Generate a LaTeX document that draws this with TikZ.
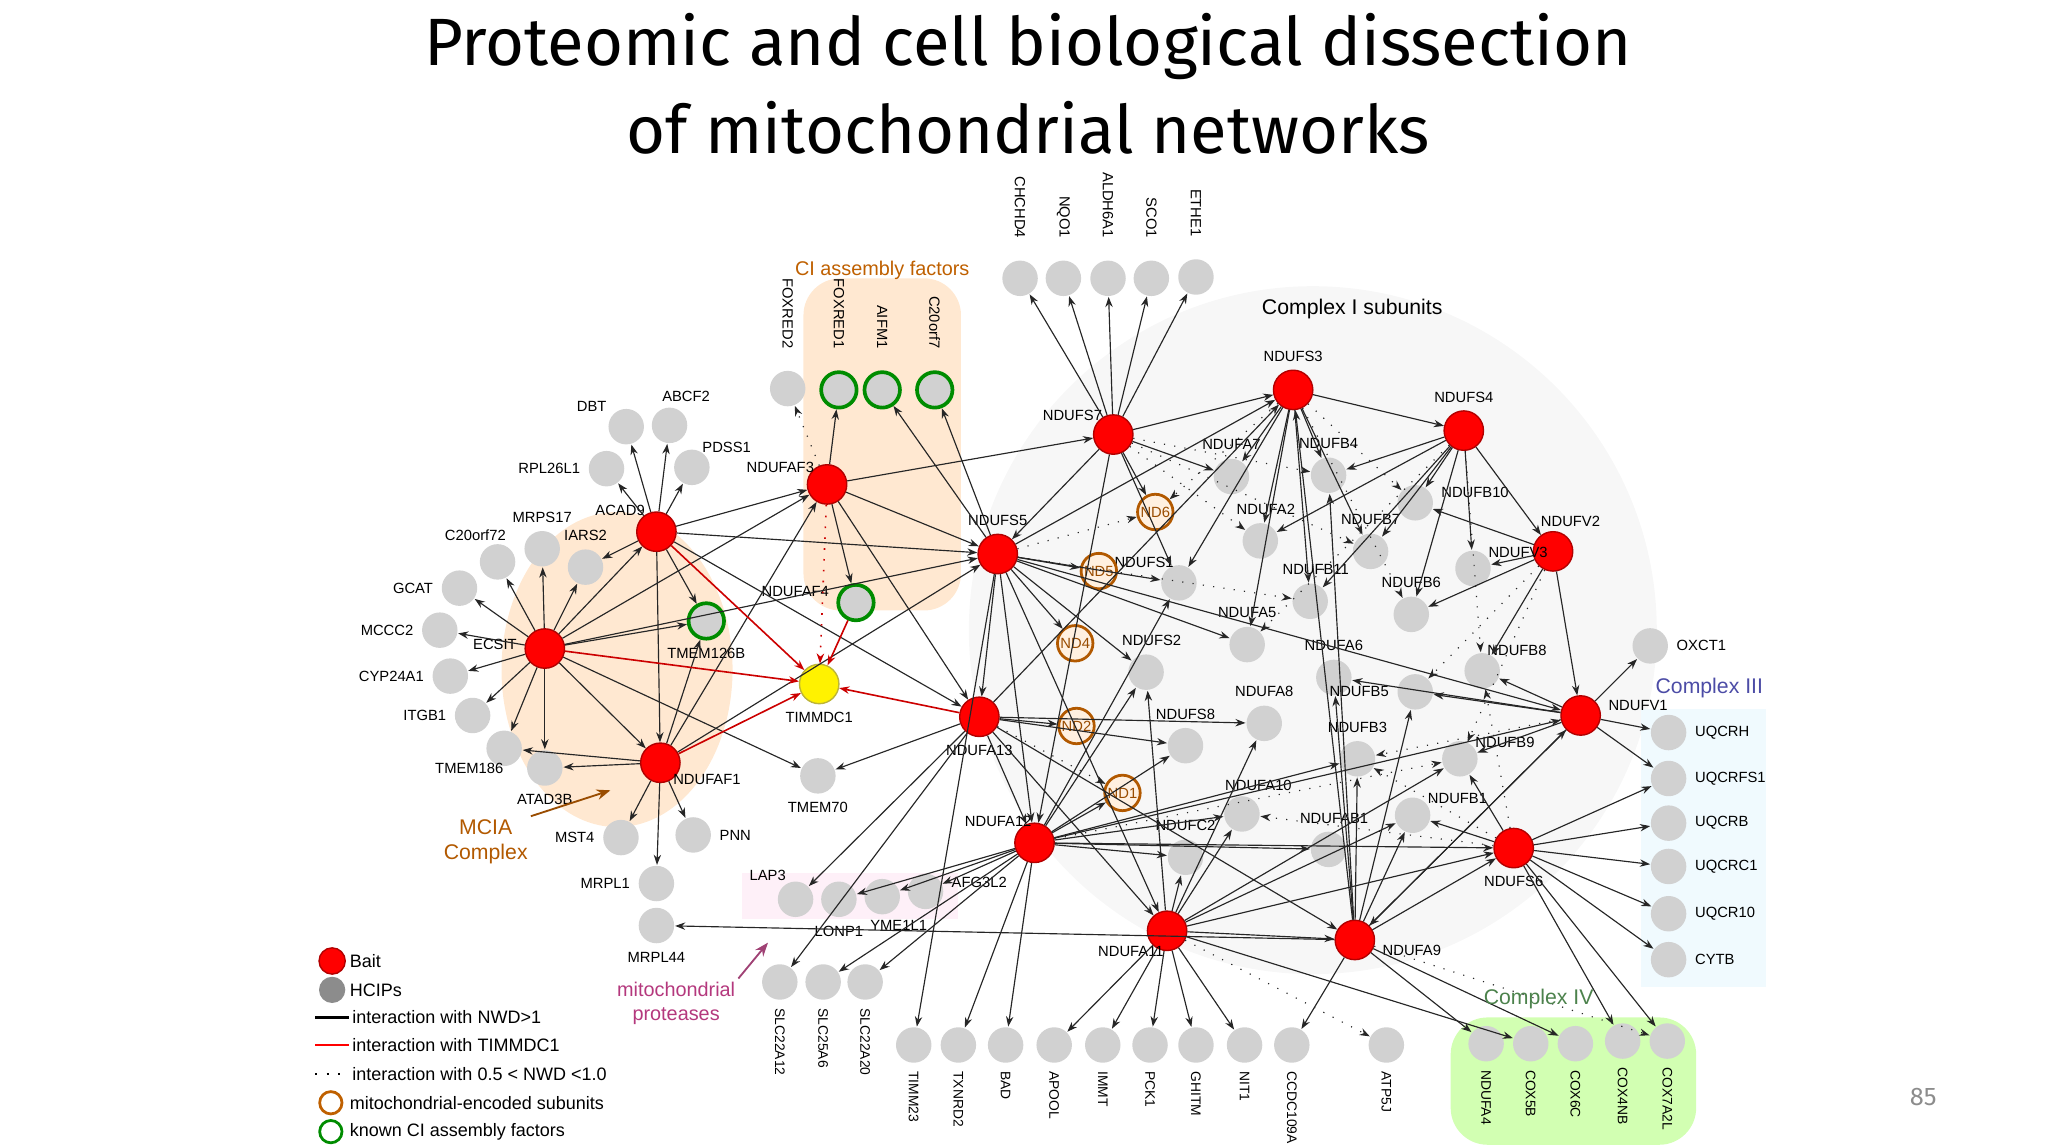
\documentclass[tikz,border=0pt]{standalone}
\usepackage{fontspec}
\setmainfont{Liberation Sans}
\newfontfamily\titlefont{Fira Sans}
\usetikzlibrary{arrows.meta}

\tikzset{
  lbl/.style={font=\fontsize{3.2}{3.5}\selectfont, inner sep=0.5pt},
  bait/.style={circle, draw=red!70!black, line width=0.3pt, fill=red, minimum size=0.3cm, inner sep=0pt},
  prey/.style={circle, fill=black!18, minimum size=0.27cm, inner sep=0pt},
  asf/.style={prey, draw=green!55!black, line width=0.8pt},
  mto/.style={prey, fill=orange!12, draw=orange!70!black, line width=0.6pt,
    font=\fontsize{3.2}{3.5}\selectfont, text=orange!60!black},
  yel/.style={bait, fill=yellow, draw=yellow!70!black},
  e/.style={-{Stealth[length=2.2pt,width=1.6pt]}, line width=0.25pt, black!85},
  d/.style={e, dotted},
  r/.style={e, red!80!black, line width=0.35pt},
}

\begin{document}
\begin{tikzpicture}[x=0.01cm, y=0.01cm]
  \useasboundingbox (0,0) rectangle (1560,872);

  % title and page number
  \node[font=\titlefont\fontsize{14.5}{18}\selectfont, align=center] (title) at (783,808)
    {Proteomic and cell biological dissection\\[1pt] of mitochondrial networks};
  \node[font=\titlefont\fontsize{5.5}{6}\selectfont, text=black!45] (page) at (1465,36) {85};

  % complex backgrounds
  \fill[black!3] (1000,392) circle (262);
  \fill[orange!18, rounded corners=8] (612,407) rectangle (732,660);
  \fill[orange!18] (470,362) ellipse (88 and 120);
  \fill[cyan!6] (1250,120) rectangle (1345,332);
  \fill[green!45!lime!30, rounded corners=8] (1105,0) rectangle (1292,97);
  \fill[magenta!6] (565,172) rectangle (730,207);

  % bait, prey and subunit nodes: name/x/y/style/label angle
  \foreach \n/\x/\y/\s/\a [evaluate=\a as \o using {int(mod(\a+180,360))}] in {
    NDUFS3/985/297/bait/90, NDUFS4/1115/328/bait/90, NDUFS7/848/331/bait/155,
    NDUFV2/1183/420/bait/60, NDUFAF3/630/369/bait/160, ACAD9/500/405/bait/150,
    NDUFS5/760/422/bait/90, ECSIT/415/494/bait/175, NDUFV1/1204/545/bait/10,
    NDUFA13/746/546/bait/270, NDUFAF1/503/581/bait/340, NDUFA12/788/642/bait/150,
    NDUFS6/1153/646/bait/270, NDUFA11/889/709/bait/210, NDUFA9/1032/716/bait/350,
    TIMMDC1/624/521/yel/270,
    NDUFAF4/652/459/asf/170, TMEM126B/538/473/asf/270,
    DBT/477/325/prey/150, ABCF2/510/324/prey/60, PDSS1/527/356/prey/30,
    RPL26L1/462/357/prey/180, MRPS17/413/418/prey/90, IARS2/446/432/prey/90,
    C20orf72/379/428/prey/130, GCAT/350/448/prey/180, MCCC2/335/480/prey/180,
    CYP24A1/343/515/prey/180, ITGB1/360/545/prey/180, TMEM186/384/570/prey/210,
    ATAD3B/415/585/prey/270, MST4/473/638/prey/180, PNN/528/636/prey/0,
    MRPL1/500/673/prey/180, MRPL44/500/705/prey/270, TMEM70/623/591/prey/270,
    LAP3/606/685/prey/140, LONP1/639/685/prey/270, YME1L1/672/683/prey/300,
    AFG3L2/705/679/prey/10,
    OXCT1/1257/492/prey/0, UQCRH/1271/558/prey/0, UQCRFS1/1271/593/prey/0,
    UQCRB/1271/627/prey/0, UQCRC1/1271/660/prey/0, UQCR10/1271/696/prey/0,
    CYTB/1271/731/prey/0,
    NDUFA7/938/363/prey/90, NDUFB4/1012/362/prey/90, NDUFB10/1078/383/prey/10,
    NDUFA2/960/412/prey/80, NDUFB7/1044/420/prey/90, NDUFS1/898/444/prey/150,
    NDUFB11/998/458/prey/80, NDUFB6/1075/468/prey/90, NDUFV3/1122/433/prey/20,
    NDUFA5/950/491/prey/90, NDUFA6/1016/516/prey/90, NDUFS2/873/512/prey/80,
    NDUFB5/1078/527/prey/180, NDUFB8/1129/511/prey/30, NDUFA8/963/551/prey/90,
    NDUFS8/903/568/prey/90, NDUFB3/1034/578/prey/90, NDUFB9/1112/578/prey/20,
    NDUFA10/946/620/prey/60, NDUFAB1/1012/647/prey/80, NDUFB1/1076/621/prey/20,
    NDUFC2/903/653/prey/90}
  {
    \node[\s] (\n) at (\x,{872-\y}) {};
    \node[lbl, anchor=\o] at ([shift=(\a:1pt)]\n.\a) {\n};
  }

  % nodes with rotated labels above
  \foreach \n/\x/\y/\s in {CHCHD4/777/212/prey, NQO1/810/212/prey, ALDH6A1/844/212/prey,
    SCO1/877/212/prey, ETHE1/911/211/prey, FOXRED2/600/296/prey, FOXRED1/639/297/asf,
    AIFM1/672/297/asf, C20orf7/712/297/asf}
  {
    \node[\s] (\n) at (\x,{872-\y}) {};
    \node[lbl, rotate=-90, anchor=east] at ([yshift=4]\n.north) {\n};
  }

  % nodes with rotated labels below
  \foreach \n/\x/\y in {SLC22A12/594/748, SLC25A6/627/748, SLC22A20/659/748,
    TIMM23/696/796, TXNRD2/730/796, BAD/766/796, APOOL/803/796, IMMT/840/796,
    PCK1/876/796, GHITM/911/796, NIT1/948/796, CCDC109A/984/796, ATP5J/1056/796,
    NDUFA4/1132/795, COX5B/1166/795, COX6C/1200/795, COX4NB/1236/793, COX7A2L/1270/793}
  {
    \node[prey] (\n) at (\x,{872-\y}) {};
    \node[lbl, rotate=-90, anchor=west, font=\fontsize{3}{3.3}\selectfont] at ([yshift=-1]\n.south) {\n};
  }

  % mitochondrial-encoded subunits
  \foreach \n/\x/\y in {ND6/880/390, ND5/837/435, ND4/819/490, ND2/820/553, ND1/855/604}
    \node[mto] (\n) at (\x,{872-\y}) {\n};

  % interactions NWD>1
  \foreach \s/\ts in {
    ECSIT/{GCAT,MCCC2,CYP24A1,ITGB1,TMEM186,ATAD3B,C20orf72,MRPS17,IARS2,ACAD9,NDUFAF1,TMEM126B,NDUFAF3,NDUFS5,TMEM70},
    ACAD9/{DBT,ABCF2,PDSS1,RPL26L1,IARS2,NDUFAF1,TMEM126B,NDUFAF3,NDUFS5,NDUFA13},
    NDUFAF1/{ATAD3B,MST4,PNN,MRPL1,TMEM186,NDUFAF3,NDUFS5,TMEM126B},
    NDUFAF3/{FOXRED1,NDUFS7,NDUFAF4,NDUFS5,NDUFA13},
    NDUFS7/{CHCHD4,NQO1,ALDH6A1,SCO1,ETHE1,NDUFS3,ND6,NDUFA7,NDUFS1,NDUFS5,NDUFA12},
    NDUFS5/{C20orf7,AIFM1,NDUFS3,ND5,ND4,NDUFS1,NDUFA5,NDUFS2,NDUFA13,NDUFA12,NDUFA11,NDUFV1,TIMM23},
    NDUFA13/{TMEM70,SLC22A12,LAP3,ND2,NDUFS8,NDUFA8,NDUFS3,NDUFA12,NDUFA11,NDUFA9},
    NDUFA12/{YME1L1,AFG3L2,LONP1,NDUFS1,NDUFS2,NDUFS8,ND1,NDUFC2,NDUFAB1,NDUFB3,NDUFA10,NDUFV1,NDUFS6,TXNRD2,BAD,SLC25A6,SLC22A20},
    NDUFA11/{APOOL,IMMT,PCK1,GHITM,NIT1,NDUFA9,NDUFC2,NDUFA10,NDUFB1,NDUFB9,NDUFS2,NDUFA8,NDUFS6,COX5B},
    NDUFA9/{CCDC109A,NDUFA4,COX6C,NDUFB1,NDUFB3,NDUFA6,NDUFB5,NDUFV1,NDUFS6,NDUFS3,NDUFB4,MRPL44},
    NDUFS3/{NDUFA7,NDUFB4,NDUFA2,NDUFB7,NDUFB11,NDUFA5,NDUFS4,NDUFS1},
    NDUFS4/{NDUFB10,NDUFB7,NDUFV3,NDUFB6,NDUFB11,NDUFA2,NDUFV2,NDUFB4},
    NDUFV2/{NDUFV3,NDUFB10,NDUFB8,NDUFV1,NDUFB6},
    NDUFV1/{OXCT1,UQCRH,UQCRFS1,NDUFB8,NDUFB5,NDUFB9,NDUFA6,NDUFA9},
    NDUFS6/{UQCRB,UQCRC1,UQCR10,UQCRFS1,CYTB,NDUFB9,NDUFB1,COX7A2L,COX4NB}}
    \foreach \t in \ts
      \draw[e] (\s) -- (\t);

  % interactions 0.5 < NWD < 1.0
  \foreach \s/\t in {NDUFAF3/FOXRED2, NDUFS7/NDUFB4, NDUFS7/NDUFA2, NDUFS3/NDUFB10, NDUFS3/ND6,
    NDUFV2/NDUFB5, NDUFS4/NDUFB8, NDUFS5/NDUFB11, NDUFS5/ND6, NDUFA13/ND1, NDUFV1/NDUFB3,
    NDUFS6/NDUFB3, NDUFS6/NDUFA10, NDUFA11/ATP5J, NDUFA9/COX7A2L, NDUFS3/NDUFB6,
    NDUFS7/NDUFB7, NDUFS4/NDUFA5, NDUFV2/NDUFB9, NDUFA12/NDUFB9, NDUFS6/NDUFB8}
    \draw[d] (\s) -- (\t);

  % interactions with TIMMDC1
  \foreach \s in {ECSIT, ACAD9, NDUFAF1, NDUFA13, NDUFAF4}
    \draw[r] (\s) -- (TIMMDC1);
  \draw[r, dotted] (NDUFAF3) -- (TIMMDC1);

  % complex labels
  \node[lbl, font=\fontsize{4.3}{5}\selectfont, text=orange!75!black] (cilbl) at (672,666) {CI assembly factors};
  \node[lbl, font=\fontsize{4.6}{5}\selectfont] (c1lbl) at (1030,637) {Complex I subunits};
  \node[lbl, font=\fontsize{4.6}{5}\selectfont, text=blue!50!black!70] (c3lbl) at (1302,348) {Complex III};
  \node[lbl, font=\fontsize{4.6}{5}\selectfont, text=green!30!black!70] (c4lbl) at (1172,111) {Complex IV};
  \node[lbl, font=\fontsize{4.6}{5.4}\selectfont, text=orange!70!black, align=center] (mcia) at (370,231) {MCIA\\Complex};
  \coordinate (mciaend) at (465,270);
  \draw[-{Stealth[length=3pt]}, orange!60!black, line width=0.4pt] (mcia.north east) -- (mciaend);
  \node[lbl, font=\fontsize{4.3}{5.2}\selectfont, text=magenta!70!black, align=center] (prot) at (515,108) {mitochondrial\\proteases};
  \coordinate (protend) at (585,154);
  \draw[-{Stealth[length=3pt]}, magenta!60!black, line width=0.4pt] (prot.north east) -- (protend);

  % legend
  \tikzset{lgt/.style={lbl, font=\fontsize{3.9}{4.2}\selectfont, anchor=west}}
  \node[bait, minimum size=0.2cm] (lg1) at (253,140) {};
  \node[lgt] (lt1) at (264,140) {Bait};
  \node[prey, minimum size=0.2cm, fill=black!45] (lg2) at (253,118) {};
  \node[lgt] (lt2) at (264,118) {HCIPs};
  \coordinate (l3a) at (240,97); \coordinate (l3b) at (266,97);
  \draw[line width=0.5pt] (l3a) -- (l3b);
  \node[lgt] (lt3) at (266,97) {interaction with NWD>1};
  \coordinate (l4a) at (240,76); \coordinate (l4b) at (266,76);
  \draw[line width=0.5pt, red] (l4a) -- (l4b);
  \node[lgt] (lt4) at (266,76) {interaction with TIMMDC1};
  \coordinate (l5a) at (240,54); \coordinate (l5b) at (266,54);
  \draw[line width=0.5pt, dotted] (l5a) -- (l5b);
  \node[lgt] (lt5) at (266,54) {interaction with 0.5 < NWD <1.0};
  \node[circle, draw=orange!75!black, line width=0.6pt, minimum size=0.17cm, inner sep=0pt] (lg6) at (252,32) {};
  \node[lgt] (lt6) at (264,32) {mitochondrial-encoded subunits};
  \node[circle, draw=green!55!black, line width=0.6pt, minimum size=0.17cm, inner sep=0pt] (lg7) at (252,10) {};
  \node[lgt] (lt7) at (264,10) {known CI assembly factors};
\end{tikzpicture}
\end{document}
